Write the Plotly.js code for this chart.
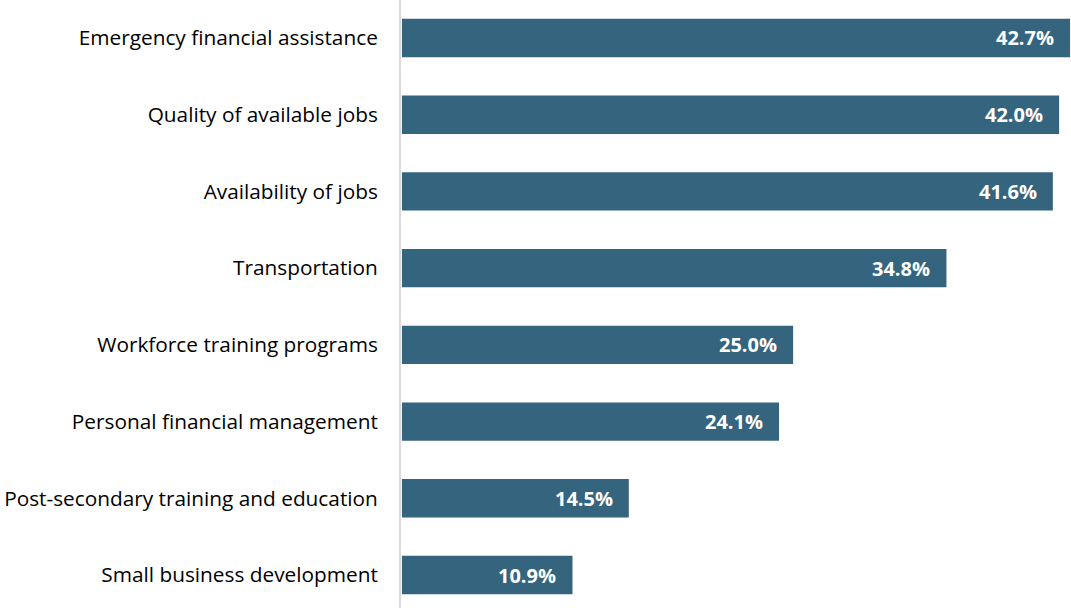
<!DOCTYPE html>
<html><head><meta charset="utf-8">
<script src="https://cdn.plot.ly/plotly-3.0.1.min.js"></script>
<style>html,body{margin:0;padding:0;background:#fff}#chart{width:1071px;height:608px}</style>
</head><body><div id="chart"></div>
<script>
const categories = [
  "Small business development",
  "Post-secondary training and education",
  "Personal financial management",
  "Workforce training programs",
  "Transportation",
  "Availability of jobs",
  "Quality of available jobs",
  "Emergency financial assistance"
];
const values = [10.9, 14.5, 24.1, 25.0, 34.8, 41.6, 42.0, 42.7];
const valueLabels = values.map(v => v.toFixed(1) + "%");

const FONT = "'Open Sans', sans-serif";
const trace = {
  type: "bar", orientation: "h",
  x: values, y: categories,
  marker: {color: "#35657e"},
  width: 0.5,
  hoverinfo: "none"
};
const annotations = values.map((v, i) => ({
  x: v, y: categories[i], xref: "x", yref: "y",
  text: "<b>" + valueLabels[i] + "</b>",
  showarrow: false, xanchor: "right", yanchor: "middle", xshift: -14,
  font: {family: FONT, size: 20, color: "#ffffff"}
}));
const layout = {
  width: 1071, height: 608,
  margin: {l: 401, r: 0, t: 0, b: 0, pad: 0},
  paper_bgcolor: "#fff", plot_bgcolor: "#fff",
  showlegend: false,
  font: {family: FONT, size: 21, color: "#000"},
  xaxis: {range: [-0.06, 42.76], showgrid: false, zeroline: false, showticklabels: false, showline: false, fixedrange: true},
  yaxis: {type: "category", categoryorder: "array", categoryarray: categories,
          range: [-0.43, 7.495], showgrid: false, zeroline: false,
          showline: true, linecolor: "#d9d9d9", linewidth: 2,
          ticks: "", ticklabelstandoff: 17, tickfont: {family: FONT, size: 20.8, color: "#000"}},
  annotations: annotations
};
Plotly.newPlot("chart", [trace], layout, {displayModeBar: false, staticPlot: true});
</script></body></html>
